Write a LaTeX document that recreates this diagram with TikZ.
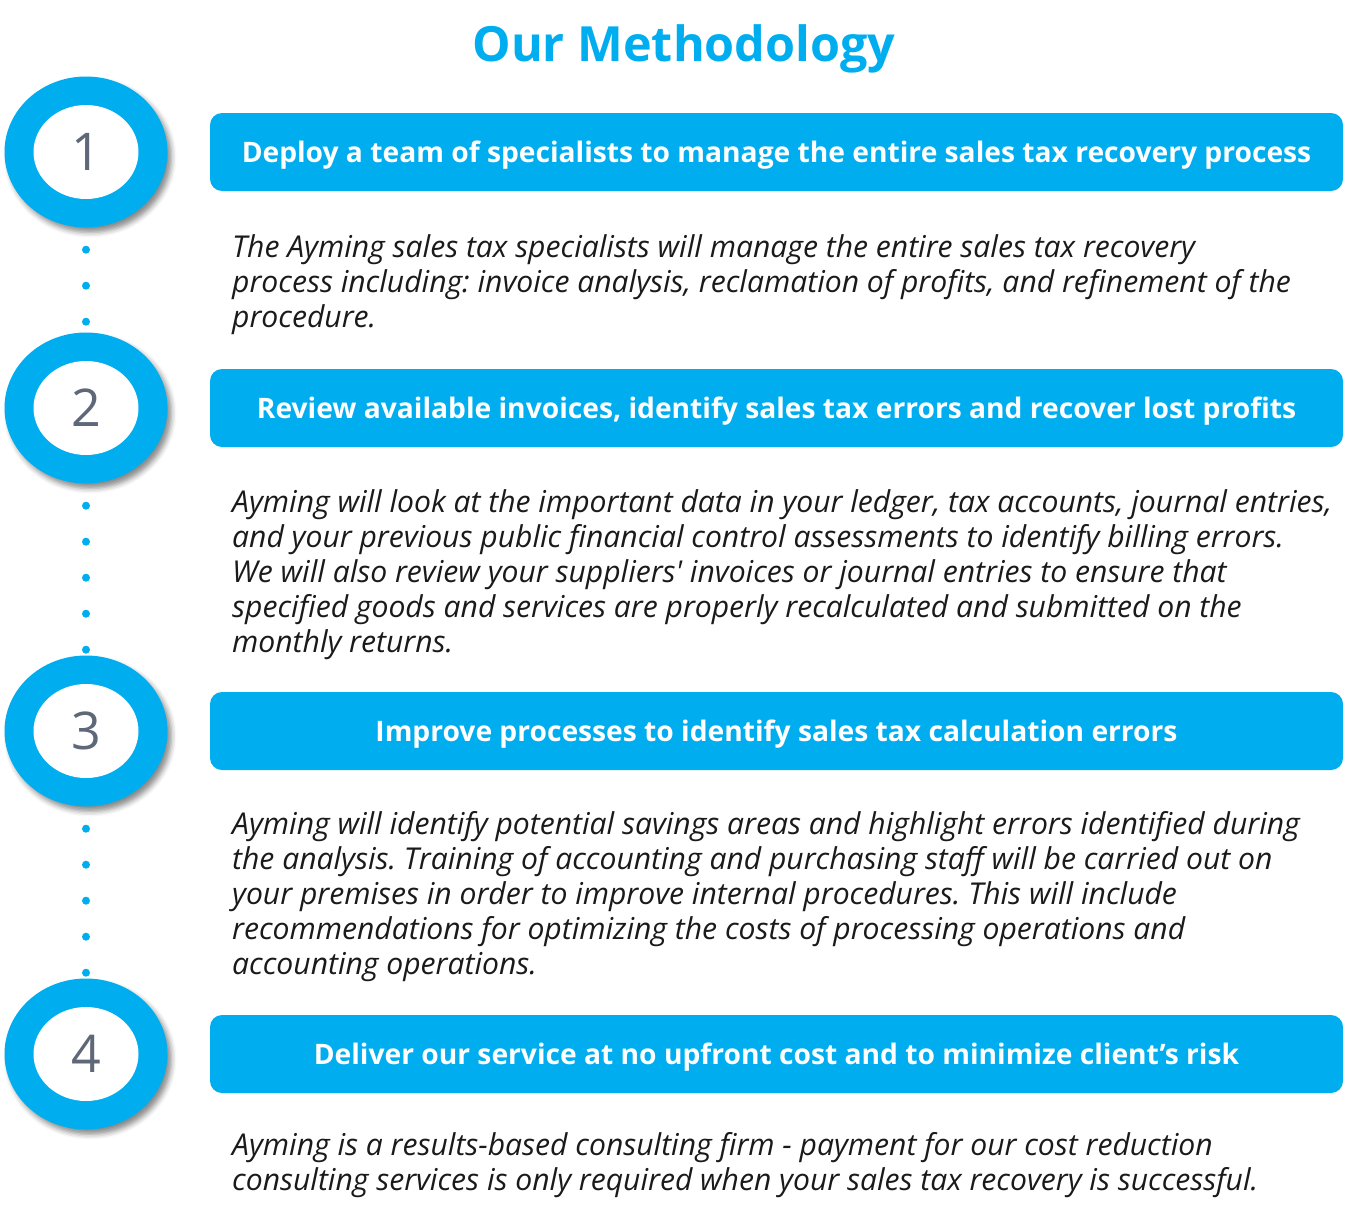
\documentclass[tikz,border=0pt]{standalone}
\usepackage{fontspec}
\setmainfont{Open Sans}
\usetikzlibrary{shapes.geometric,shadows.blur}
\definecolor{aymblue}{HTML}{00AEEF}
\definecolor{numgray}{HTML}{5F6879}
\definecolor{bodyblack}{HTML}{1A1A1A}
\frenchspacing

\begin{document}
\begin{tikzpicture}[x=1pt, y=-1pt,
    ring/.style={ellipse, fill=aymblue, minimum width=163pt, minimum height=151pt, inner sep=0pt,
      blur shadow={shadow xshift=4pt, shadow yshift=-5pt, shadow blur radius=5pt, shadow opacity=45}},
    face/.style={ellipse, fill=white, minimum width=105pt, minimum height=94pt, inner sep=0pt,
      text=numgray, font=\fontsize{52}{52}\selectfont, text height=37pt, text depth=0pt},
    dotline/.style={aymblue, line width=8pt, line cap=round, dash pattern=on 0pt off 36pt, dash phase=14pt},
    hbox/.style={rectangle, rounded corners=12pt, fill=aymblue, minimum width=1133pt, minimum height=78pt,
      inner sep=0pt, text=white, font=\bfseries\fontsize{28.2}{28.2}\selectfont, text height=20.5pt, text depth=0pt},
    body/.style={anchor=base west, inner sep=0pt, align=left, text=bodyblack,
      font=\itshape\fontsize{30.1}{35}\selectfont}]

  \useasboundingbox (0,0) rectangle (1356,1215);

  % 1. Titulo
  \node[anchor=base, text=aymblue, font=\bfseries\fontsize{48.5}{48.5}\selectfont] (title) at (684,62) {Our Methodology};

  % 2. Circulos numerados, um por etapa
  \foreach \i/\y in {1/152,2/408,3/731,4/1054} {
    \node[ring] (c\i) at (86,\y) {};
    \node[face] (n\i) at (c\i) {\i};   % numero no centro do anel
  }

  % 3. Pontos entre os circulos
  \foreach \i [evaluate=\i as \j using int(\i+1)] in {1,2,3} {
    \draw[dotline] (c\i.south) -- (c\j.north);
  }

  % 4. Faixas azuis com os titulos das etapas
  \node[hbox] (h1) at (776.5,152) {Deploy a team of specialists to manage the entire sales tax recovery process};
  \node[hbox] (h2) at (776.5,408) {Review available invoices, identify sales tax errors and recover lost profits};
  \node[hbox] (h3) at (776.5,731) {Improve processes to identify sales tax calculation errors};
  \node[hbox] (h4) at (776.5,1054) {Deliver our service at no upfront cost and to minimize client’s risk};

  % 5. Textos descritivos (ancorados na linha de base da ultima linha)
  \node[body] (t1) at (232,327) {The Ayming sales tax specialists will manage the entire sales tax recovery\\
    process including: invoice analysis, reclamation of profits, and refinement of the\\
    procedure.};
  \node[body] (t2) at (232,652) {Ayming will look at the important data in your ledger, tax accounts, journal entries,\\
    and your previous public financial control assessments to identify billing errors.\\
    We will also review your suppliers\textquotesingle{} invoices or journal entries to ensure that\\
    specified goods and services are properly recalculated and submitted on the\\
    monthly returns.};
  \node[body] (t3) at (232,974) {Ayming will identify potential savings areas and highlight errors identified during\\
    the analysis. Training of accounting and purchasing staff will be carried out on\\
    your premises in order to improve internal procedures. This will include\\
    recommendations for optimizing the costs of processing operations and\\
    accounting operations.};
  \node[body] (t4) at (232,1190) {Ayming is a results-based consulting firm - payment for our cost reduction\\
    consulting services is only required when your sales tax recovery is successful.};
\end{tikzpicture}
\end{document}
